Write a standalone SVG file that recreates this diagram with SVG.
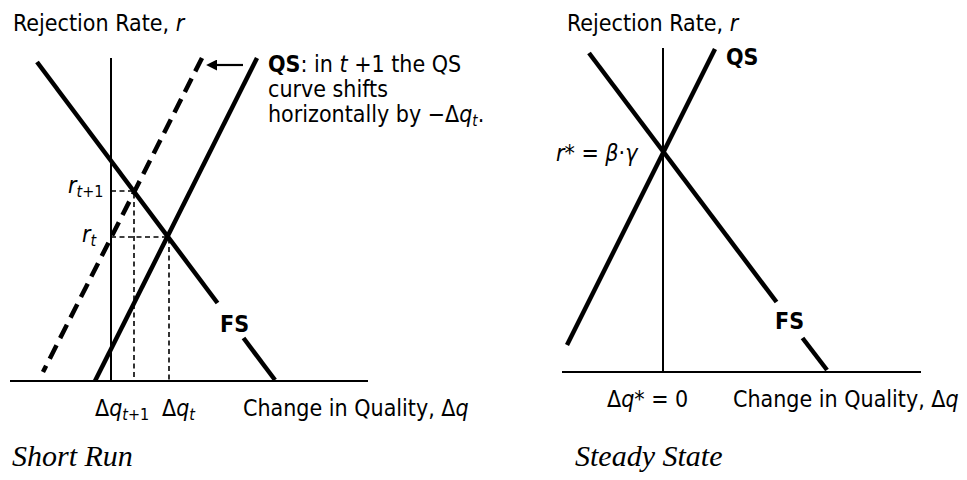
<svg xmlns="http://www.w3.org/2000/svg" width="967" height="480" viewBox="0 0 967 480">
<defs>
<style>
.t{font-family:"DejaVu Sans Condensed","DejaVu Sans",sans-serif;font-size:23px;fill:#000}
.b{font-weight:bold}
.i{font-style:italic}
.cap{font-family:"Liberation Serif",serif;font-style:italic;font-size:30px;fill:#000}
.ax{stroke:#000;stroke-width:2;fill:none}
.cv{stroke:#000;stroke-width:4.5;fill:none}
.dcv{stroke:#000;stroke-width:4.5;fill:none;stroke-dasharray:15 8}
.gd{stroke:#000;stroke-width:1.6;fill:none;stroke-dasharray:5 3.5}
</style>
<marker id="ah" viewBox="0 0 10 10" refX="1" refY="5" markerWidth="5" markerHeight="5" orient="auto-start-reverse" markerUnits="strokeWidth">
<path d="M0,0 L10,5 L0,10 z" fill="#000"/>
</marker>
</defs>
<rect width="967" height="480" fill="#fff"/>

<g id="short-run">
<text class="t" x="13" y="31">Rejection Rate, <tspan class="i">r</tspan></text>
<g id="axes-left">
<line class="ax" x1="111" y1="58" x2="111" y2="381"/>
<line class="ax" x1="10" y1="381" x2="368" y2="381"/>
</g>
<g id="fs-left">
<line class="cv" x1="37" y1="62" x2="217.5" y2="303"/>
<line class="cv" x1="243.5" y1="338" x2="275" y2="380"/>
<text class="t b" x="220" y="332">FS</text>
</g>
<g id="qs-left">
<line class="cv" x1="257" y1="58" x2="95" y2="381"/>
<text class="t" x="268" y="72"><tspan class="b">QS</tspan>: in <tspan class="i">t</tspan> +1 the QS</text>
<text class="t" x="268" y="97">curve shifts</text>
<text class="t" x="268" y="122">horizontally by −Δ<tspan class="i">q</tspan><tspan class="i" font-size="15" dy="4">t</tspan><tspan dy="-4">.</tspan></text>
</g>
<g id="qs-shifted">
<line class="dcv" x1="202" y1="58" x2="43" y2="372"/>
</g>
<g id="connectors">
<line stroke="#000" stroke-width="2.2" x1="243" y1="65" x2="216" y2="65" marker-end="url(#ah)"/>
<polyline class="gd" points="111,191 134,191 134,381"/>
<polyline class="gd" points="111,237 169,237 169,381"/>
</g>
<g id="labels-left">
<text class="t" x="68" y="193"><tspan class="i">r</tspan><tspan font-size="16" dy="4"><tspan class="i">t</tspan>+1</tspan></text>
<text class="t" x="82" y="242"><tspan class="i">r</tspan><tspan class="i" font-size="16" dy="4">t</tspan></text>
<text class="t" x="95" y="416">Δ<tspan class="i">q</tspan><tspan font-size="16" dy="4"><tspan class="i">t</tspan>+1</tspan></text>
<text class="t" x="162" y="416">Δ<tspan class="i">q</tspan><tspan class="i" font-size="16" dy="4">t</tspan></text>
<text class="t" x="243" y="416">Change in Quality, Δ<tspan class="i">q</tspan></text>
</g>
<text class="cap" x="12" y="466">Short Run</text>
</g>

<g id="steady-state">
<text class="t" x="567" y="31">Rejection Rate, <tspan class="i">r</tspan></text>
<g id="axes-right">
<line class="ax" x1="663" y1="48" x2="663" y2="372"/>
<line class="ax" x1="562" y1="372" x2="921" y2="372"/>
</g>
<g id="fs-right">
<line class="cv" x1="589" y1="53" x2="776.5" y2="302"/>
<line class="cv" x1="802.5" y1="338" x2="827" y2="370"/>
<text class="t b" x="775" y="329">FS</text>
</g>
<g id="qs-right">
<line class="cv" x1="715" y1="49" x2="567" y2="345"/>
<text class="t b" x="726" y="65">QS</text>
</g>
<g id="labels-right">
<text class="t" x="556" y="161"><tspan class="i">r</tspan>* = <tspan class="i">β</tspan>·<tspan class="i">γ</tspan></text>
<text class="t" x="607" y="407">Δ<tspan class="i">q</tspan>* = 0</text>
<text class="t" x="733" y="407">Change in Quality, Δ<tspan class="i">q</tspan></text>
</g>
<text class="cap" x="575" y="466">Steady State</text>
</g>
</svg>
